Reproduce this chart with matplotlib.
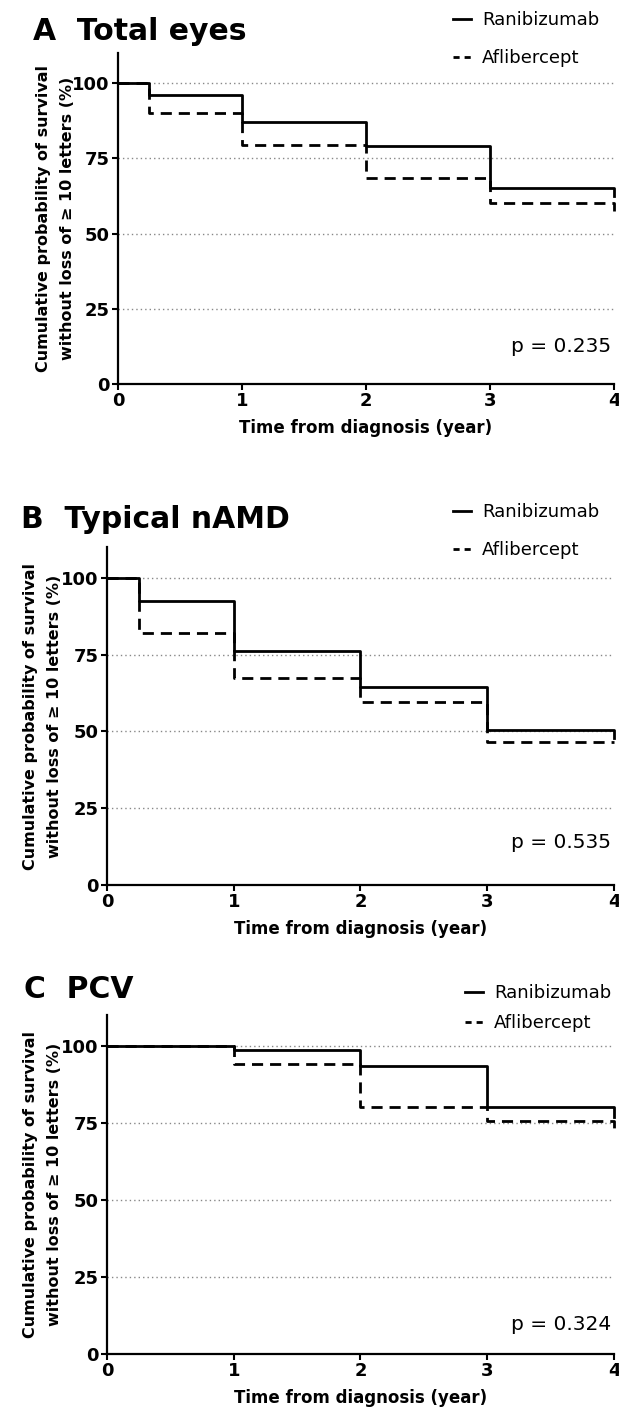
import matplotlib
matplotlib.use("Agg")
import matplotlib.pyplot as plt
from matplotlib.lines import Line2D

# data (years, % surviving)
A_time = [0, 0.25, 1, 2, 3, 4]
A_rani = [100, 96, 87, 79, 65, 62.5]
A_afli = [100, 90, 79.5, 68.5, 60, 57.5]

B_time = [0, 0.25, 1, 2, 3, 4]
B_rani = [100, 92.5, 76, 64.5, 50.5, 48]
B_afli = [100, 82, 67.5, 59.5, 46.5, 46.5]

C_time = [0, 1, 2, 3, 4]
C_rani = [100, 98.5, 93.5, 80, 77]
C_afli = [100, 94, 80, 75.5, 72]

titles = ["A  Total eyes", "B  Typical nAMD", "C  PCV"]
pvals = ["p = 0.235", "p = 0.535", "p = 0.324"]
series = ["Ranibizumab", "Aflibercept"]
yticks = [0, 25, 50, 75, 100]
xticks = [0, 1, 2, 3, 4]

W, H = 619, 1409
fig = plt.figure(figsize=(W / 100, H / 100), dpi=100)

ylab = "Cumulative probability of survival\nwithout loss of \u2265 10 letters (%)"

# axes boxes in pixels: left, right, y of 0, y of top
boxes = [(118, 614, 384, 53), (107, 614, 885, 547), (107, 614, 1354, 1015)]
title_pos = [(33, 32), (21, 520), (24, 990)]
leg_pos = [(437, -5), (437, 487), (449, 968)]
spacing = [1.1, 1.1, 0.65]
ylab_x = [75, 62, 62]
p_y = [0.113, 0.127, 0.088]

data = [(A_time, A_rani, A_afli), (B_time, B_rani, B_afli), (C_time, C_rani, C_afli)]

# legend keys with shorter dashes so two show up
handles = [Line2D([], [], color="black", lw=2.0),
           Line2D([], [], color="black", lw=2.0, ls=(0, (2.2, 1.8)))]

for i in range(3):
    l, r, b, t = boxes[i]
    ax = fig.add_axes([l / W, 1 - b / H, (r - l) / W, (b - t) / H])
    tm, rani, afli = data[i]

    for yv in [25, 50, 75, 100]:
        ax.axhline(yv, color="#888888", lw=1.0, ls=(0, (1, 2.2)), zorder=1)

    ax.plot(tm, rani, drawstyle="steps-post", color="black", lw=2.0, clip_on=False, zorder=3)
    ax.plot(tm, afli, drawstyle="steps-post", color="black", lw=2.0,
            ls=(0, (4, 2.5)), clip_on=False, zorder=3)

    ax.set_xlim(0, 4)
    ax.set_ylim(0, 110)
    ax.set_xticks(xticks)
    ax.set_yticks(yticks)
    ax.set_xticklabels([str(v) for v in xticks], fontsize=13, fontweight="bold")
    ax.set_yticklabels([str(v) for v in yticks], fontsize=13, fontweight="bold")
    ax.tick_params(direction="out", length=4, width=1.5, pad=2)
    for s in ["top", "right"]:
        ax.spines[s].set_visible(False)
    for s in ["left", "bottom"]:
        ax.spines[s].set_linewidth(1.6)

    ax.set_xlabel("Time from diagnosis (year)", fontsize=12, fontweight="bold", labelpad=6)
    ax.set_ylabel(ylab, fontsize=11.5, fontweight="bold", linespacing=1.75)
    ax.yaxis.set_label_coords(ylab_x[i] / W, 1 - ((b + t) / 2) / H, transform=fig.transFigure)

    ax.text(0.995, p_y[i], pvals[i], transform=ax.transAxes, ha="right", va="center", fontsize=14.5)

    tx, ty = title_pos[i]
    fig.text(tx / W, 1 - ty / H, titles[i], fontsize=21.5, fontweight="bold", va="center", ha="left")

    lx, ly = leg_pos[i]
    ax.legend(handles, series, loc="upper left", bbox_to_anchor=(lx / W, 1 - ly / H),
              bbox_transform=fig.transFigure, frameon=False, handlelength=1.0,
              handletextpad=0.6, labelspacing=spacing[i], prop={"size": 13})

fig.savefig("out.png", dpi=100)
